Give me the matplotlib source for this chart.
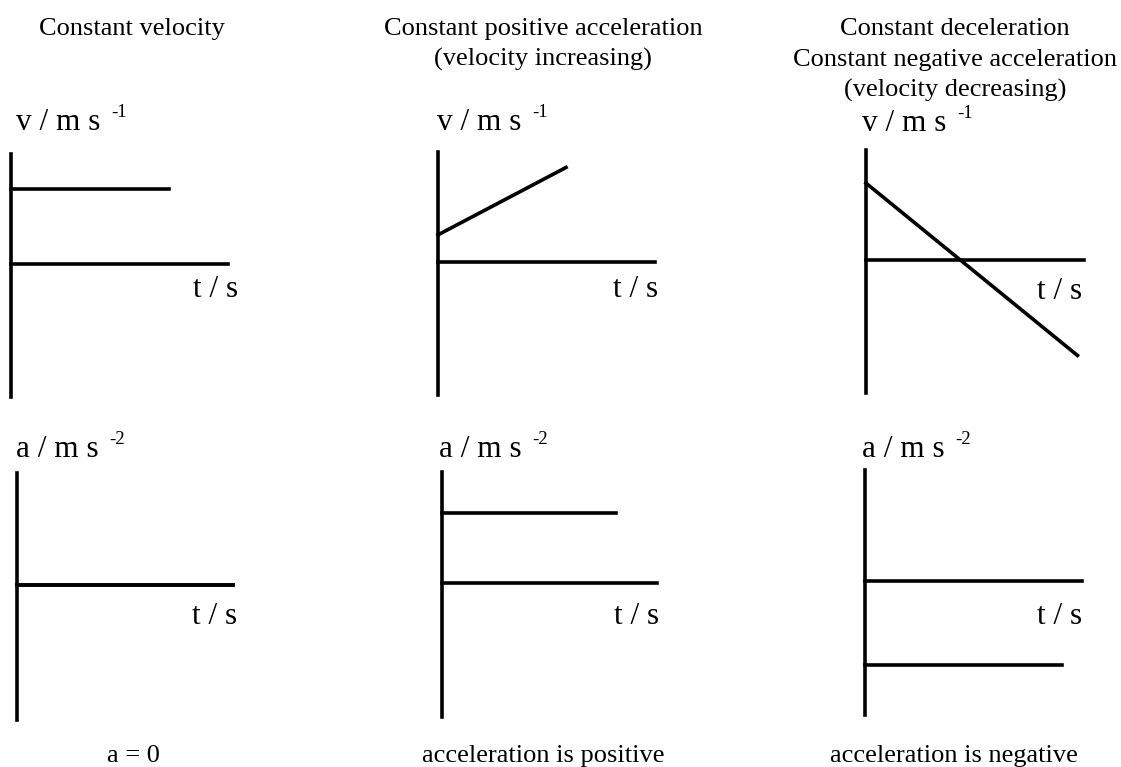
import matplotlib.pyplot as plt

# velocity-time and acceleration-time sketches for three kinds of motion
t_end = 10.0
v_lim = (-6.0, 5.0)

v_const_t = [0, 7.3]
v_const = [3.4, 3.4]
v_inc_t = [0, 5.9]
v_inc = [1.25, 4.3]
v_dec_t = [0, 9.7]
v_dec = [3.5, -4.3]

a_zero_t = [0, 10]
a_zero = [0, 0]
a_pos_t = [0, 8.1]
a_pos = [3.15, 3.15]
a_neg_t = [0, 9.1]
a_neg = [-3.75, -3.75]

titles = [
    ["Constant velocity"],
    ["Constant positive acceleration", "(velocity increasing)"],
    ["Constant deceleration", "Constant negative acceleration", "(velocity decreasing)"],
]
captions = ["a = 0", "acceleration is positive", "acceleration is negative"]

W, H = 1121, 767
plt.rcParams['font.family'] = ['Liberation Serif', 'DejaVu Serif']

fig = plt.figure(figsize=(W / 100, H / 100), dpi=100)


def px(x, y):
    return x / W, 1 - y / H


def add_panel(box, t, y, ylabel, sup, label_xy, tlabel_xy):
    x0, y0, x1, y1 = box
    ax = fig.add_axes([x0 / W, 1 - y1 / H, (x1 - x0) / W, (y1 - y0) / H])
    ax.set_xlim(0, t_end)
    ax.set_ylim(*v_lim)
    ax.axis('off')
    ax.plot([0, 0], list(v_lim), color='black', lw=2.6, clip_on=False)
    ax.plot([0, t_end], [0, 0], color='black', lw=2.6, clip_on=False)
    ax.plot(t, y, color='black', lw=2.6, clip_on=False)
    lab = fig.text(*px(*label_xy), ylabel, fontsize=22.5, ha='left', va='baseline')
    ax.annotate(sup, xy=(1, 1), xycoords=lab, xytext=(8, 3),
                textcoords='offset points', fontsize=13.5, ha='left', va='top')
    fig.text(*px(*tlabel_xy), "t / s", fontsize=22.5, ha='right', va='baseline')
    return ax


add_panel((11, 154, 228, 397), v_const_t, v_const, "v / m s", "-1", (16, 130), (238, 297))
add_panel((438, 152, 655, 395), v_inc_t, v_inc, "v / m s", "-1", (437, 130), (658, 297))
add_panel((866, 150, 1084, 393), v_dec_t, v_dec, "v / m s", "-1", (862, 131), (1082, 299))
add_panel((17, 473, 233, 720), a_zero_t, a_zero, "a / m s", "-2", (16, 457), (237, 624))
add_panel((442, 472, 657, 717), a_pos_t, a_pos, "a / m s", "-2", (439, 457), (659, 624))
add_panel((865, 470, 1082, 715), a_neg_t, a_neg, "a / m s", "-2", (862, 457), (1082, 624))

# column headings and captions
title_x = [132, 543, 955]
baselines = [35, 66, 97]
for cx, lines in zip(title_x, titles):
    for line, by in zip(lines, baselines):
        fig.text(*px(cx, by), line, fontsize=19, ha='center', va='baseline')

for cx, cap in zip([133, 543, 954], captions):
    fig.text(*px(cx, 762), cap, fontsize=19, ha='center', va='baseline')

fig.savefig('out.png', dpi=100, facecolor='white')
